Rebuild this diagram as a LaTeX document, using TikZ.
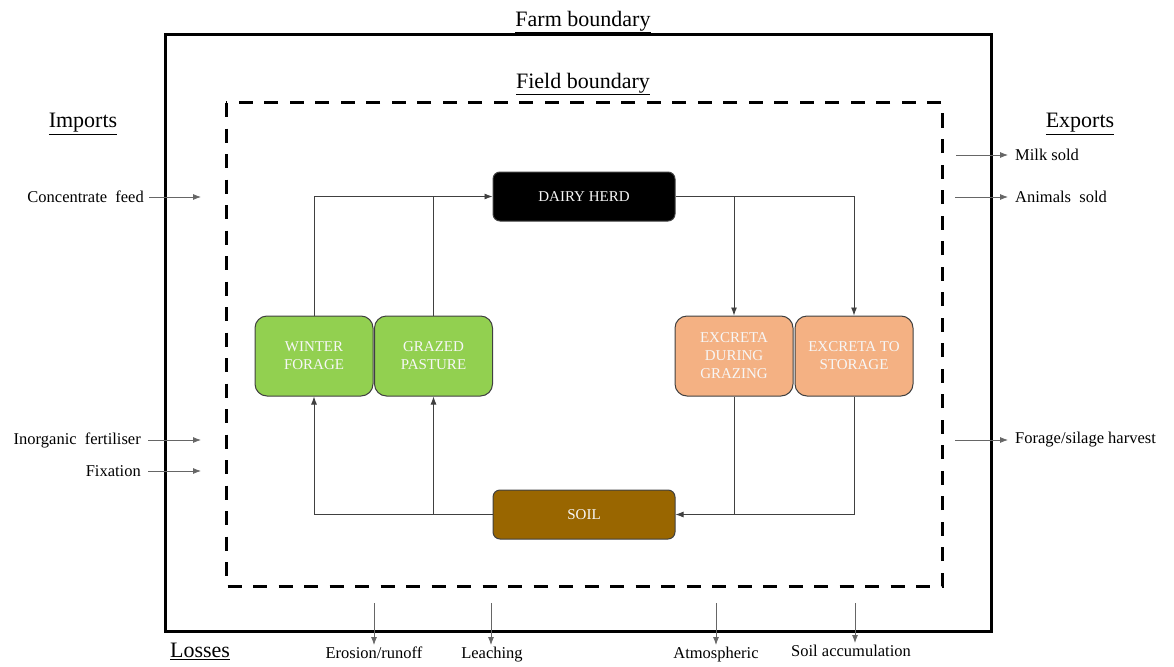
\documentclass[tikz,border=0pt]{standalone}
\usepackage{fontspec}
\setmainfont{Liberation Serif}
\usetikzlibrary{arrows.meta}
\definecolor{grn}{HTML}{92D050}
\definecolor{peach}{HTML}{F4B183}
\definecolor{soilc}{HTML}{996600}
\definecolor{linec}{HTML}{404040}
\tikzset{
  box/.style={rectangle, rounded corners=12pt, draw=linec, line width=1pt,
    minimum width=118pt, minimum height=80pt, inner sep=0pt, align=center,
    text=white!94!gray, font=\rmfamily\fontsize{15}{18}\selectfont},
  wbox/.style={box, minimum width=182pt, minimum height=49pt, rounded corners=7pt},
  flow/.style={draw=linec, line width=0.9pt, -{Latex[length=8pt,width=6pt]}},
  link/.style={draw=linec, line width=0.9pt},
  lbl/.style={font=\rmfamily\fontsize{16.5}{19}\selectfont, inner sep=2pt},
  ttl/.style={font=\rmfamily\fontsize{22}{26}\selectfont, inner sep=0pt},
  xarrow/.style={draw=gray!80!black, line width=0.8pt, -{Latex[length=8pt,width=6pt]}}
}
\begin{document}
\begin{tikzpicture}[x=1pt,y=-1pt]
\useasboundingbox (0,0) rectangle (1174,666);
% boundaries
\draw[line width=3pt] (165,35) rectangle (991,631);
\draw[line width=3pt, dash pattern=on 14pt off 11.5pt] (226,103) rectangle (942,586);
% titles
\node[ttl] (farmt) at (583,22) {\underline{Farm boundary}};
\node[ttl] (fieldt) at (583,84) {\underline{Field boundary}};
\node[ttl] (impt) at (83,124) {\underline{Imports}};
\node[ttl] (expt) at (1080,124) {\underline{Exports}};
\node[ttl] (lost) at (200,651) {\underline{Losses}};
% boxes
\node[wbox, fill=black] (dairy) at (584,196.5) {DAIRY HERD};
\node[wbox, fill=soilc] (soil) at (584,514.5) {SOIL};
\node[box, fill=grn] (winter) at (314,356) {WINTER\\FORAGE};
\node[box, fill=grn] (grazed) at (433.5,356) {GRAZED\\PASTURE};
\node[box, fill=peach] (exgr) at (734,356) {EXCRETA\\DURING\\GRAZING};
\node[box, fill=peach] (exst) at (854,356) {EXCRETA TO\\STORAGE};
% connectors
\coordinate (j1) at (433.5,196.5);
\draw[flow] (winter.north) |- (dairy.west);
\draw[link] (grazed.north) -- (j1);
\coordinate (j2) at (734,196.5);
\draw[flow] (dairy.east) -| (exst.north);
\draw[flow] (j2) -- (exgr.north);
\coordinate (j3) at (734,514.5);
\draw[flow] (exst.south) |- (soil.east);
\draw[link] (exgr.south) -- (j3);
\coordinate (j4) at (433.5,514.5);
\draw[flow] (soil.west) -| (winter.south);
\draw[flow] (j4) -- (grazed.south);
% imports
\node[lbl, anchor=east] (cf) at (146,197) {Concentrate\ \ feed};
\node[lbl, anchor=east] (inf) at (143,440) {Inorganic\ \ fertiliser};
\node[lbl, anchor=east] (fix) at (143,471) {Fixation};
\coordinate (cfe) at (201,197);
\coordinate (infe) at (201,440);
\coordinate (fixe) at (201,471);
\draw[xarrow] (cf.east) ++(3,0) -- (cfe);
\draw[xarrow] (inf.east) ++(5,0) -- (infe);
\draw[xarrow] (fix.east) ++(5,0) -- (fixe);
% exports
\node[lbl, anchor=west] (milk) at (1013,155) {Milk sold};
\node[lbl, anchor=west] (anim) at (1013,197) {Animals\ \ sold};
\node[lbl, anchor=west] (fsh) at (1013,440) {Forage/silage harvest};
\coordinate (milks) at (956,155);
\coordinate (anims) at (955,197);
\coordinate (fshs) at (955,440);
\draw[xarrow, shorten >=5pt] (milks) -- (milk.west);
\draw[xarrow, shorten >=5pt] (anims) -- (anim.west);
\draw[xarrow, shorten >=5pt] (fshs) -- (fsh.west);
% losses
\node[lbl, anchor=north] (ero) at (374,645) {Erosion/runoff};
\node[lbl, anchor=north] (lea) at (492,645) {Leaching};
\node[lbl, anchor=north] (atm) at (716,645) {Atmospheric};
\node[lbl, anchor=north] (sac) at (851,643) {Soil accumulation};
\coordinate (eros) at (374,603);
\coordinate (leas) at (491,603);
\coordinate (atms) at (716,603);
\coordinate (sacs) at (855,603);
\draw[xarrow] (eros) -- (eros |- ero.north);
\draw[xarrow] (leas) -- (leas |- lea.north);
\draw[xarrow] (atms) -- (atms |- atm.north);
\draw[xarrow] (sacs) -- (sacs |- sac.north);
\end{tikzpicture}
\end{document}
